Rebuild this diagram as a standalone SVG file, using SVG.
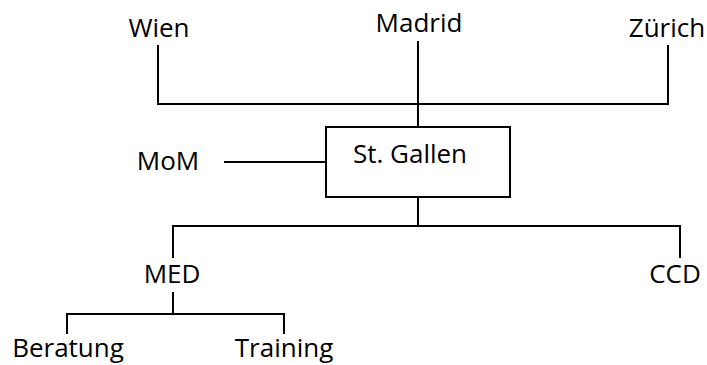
<svg xmlns="http://www.w3.org/2000/svg" width="707" height="365" viewBox="0 0 707 365">
<style>
.t{font-family:"Open Sans","Noto Sans",sans-serif;font-size:26px;fill:#000;text-anchor:middle}
.c{stroke:#000;stroke-width:2;fill:none}
</style>
<rect width="707" height="365" fill="#fff"/>
<g id="connectors" class="c">
<path d="M158 45V104H668V45"/>
<path d="M418 41V127"/>
<path d="M224 162H326"/>
<path d="M418 197V226"/>
<path d="M173 258V226H680V258"/>
<path d="M173 292V314"/>
<path d="M67 334V314H284V334"/>
</g>
<g id="wien"><text class="t" x="159" y="37">Wien</text></g>
<g id="madrid"><text class="t" x="419" y="32">Madrid</text></g>
<g id="zurich"><text class="t" x="667" y="37">Zürich</text></g>
<g id="stgallen"><rect class="c" x="326" y="127" width="184" height="70"/><text class="t" x="410" y="163">St. Gallen</text></g>
<g id="mom"><text class="t" x="168" y="170">MoM</text></g>
<g id="med"><text class="t" x="172" y="283">MED</text></g>
<g id="ccd"><text class="t" x="675" y="283">CCD</text></g>
<g id="beratung"><text class="t" x="68" y="357">Beratung</text></g>
<g id="training"><text class="t" x="284" y="357">Training</text></g>
</svg>
